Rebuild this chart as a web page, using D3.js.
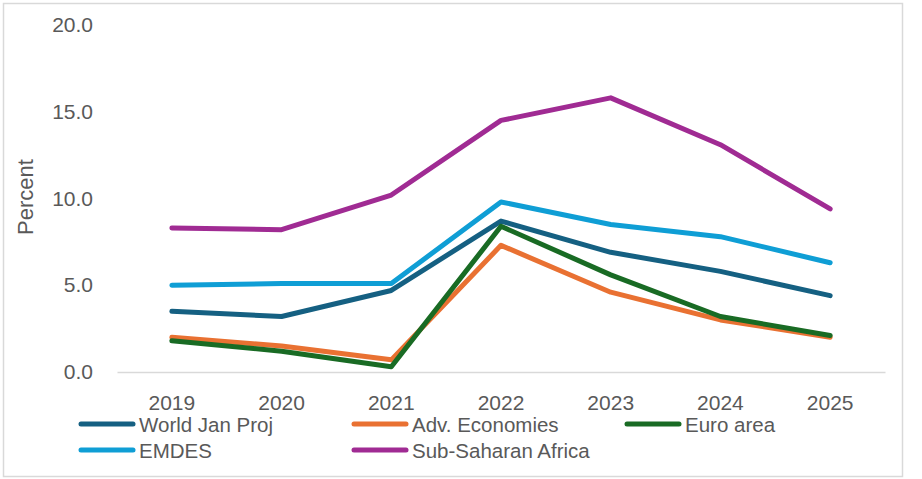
<!DOCTYPE html>
<html>
<head>
<meta charset="utf-8">
<script src="https://cdn.jsdelivr.net/npm/d3@7"></script>
<style>
  html, body { margin: 0; padding: 0; background: #fff; }
  svg { display: block; }
  text { font-family: "Liberation Sans", Arial, sans-serif; fill: #595959; }
</style>
</head>
<body>
<svg id="chart" width="922" height="479"></svg>
<script>
// Years on the horizontal axis
const years = ["2019", "2020", "2021", "2022", "2023", "2024", "2025"];

// Inflation, percent
const worldJanProj   = [3.5, 3.2, 4.7, 8.7, 6.9, 5.8, 4.4];
const advEconomies   = [2.0, 1.5, 0.7, 7.3, 4.6, 3.0, 2.0];
const euroArea       = [1.8, 1.2, 0.3, 8.4, 5.6, 3.2, 2.1];
const emdes          = [5.0, 5.1, 5.1, 9.8, 8.5, 7.8, 6.3];
const subSaharan     = [8.3, 8.2, 10.2, 14.5, 15.8, 13.1, 9.4];

const yTicks = [0, 5, 10, 15, 20];

const seriesNames  = ["World Jan Proj", "Adv. Economies", "Euro area", "EMDES", "Sub-Saharan Africa"];
const seriesValues = [worldJanProj, advEconomies, euroArea, emdes, subSaharan];
const seriesColors = ["#156082", "#E97132", "#196B24", "#0F9ED5", "#A02B93"];

const svg = d3.select("#chart");

// outer frame
svg.append("rect")
  .attr("x", 3.5).attr("y", 3.5)
  .attr("width", 899).attr("height", 473)
  .attr("fill", "#fff")
  .attr("stroke", "#d9d9d9").attr("stroke-width", 1.5);

const plot = { left: 117, right: 885, top: 25, bottom: 372 };

const x = d3.scaleBand().domain(years).range([plot.left, plot.right]);
const y = d3.scaleLinear().domain([0, 20]).range([plot.bottom, plot.top]);

const font = "'Liberation Sans', Arial, sans-serif";

// y tick labels (no axis line)
const yAxis = d3.axisLeft(y).tickValues(yTicks).tickFormat(d3.format(".1f")).tickSize(0).tickPadding(0);
const gy = svg.append("g").attr("transform", `translate(93,0)`).call(yAxis);
gy.select(".domain").remove();
gy.selectAll("text").attr("font-size", 21).attr("fill", "#595959").style("font-family", font);

// x axis baseline and labels
const xAxis = d3.axisBottom(x).tickSize(0).tickPadding(0);
const gx = svg.append("g").attr("transform", `translate(0,${plot.bottom})`).call(xAxis);
gx.select(".domain").attr("stroke", "#d9d9d9").attr("stroke-width", 1.5);
gx.selectAll("text").attr("font-size", 21).attr("fill", "#595959")
  .attr("y", 38).attr("dy", 0)
  .style("font-family", font);

// y axis title
svg.append("text")
  .attr("transform", `translate(33,197) rotate(-90)`)
  .attr("text-anchor", "middle")
  .attr("font-size", 22)
  .text("Percent");

// lines
const line = d3.line()
  .x((d, i) => x(years[i]) + x.bandwidth() / 2)
  .y(d => y(d));

seriesValues.forEach((vals, k) => {
  svg.append("path")
    .datum(vals)
    .attr("d", line)
    .attr("fill", "none")
    .attr("stroke", seriesColors[k])
    .attr("stroke-width", 5)
    .attr("stroke-linejoin", "round")
    .attr("stroke-linecap", "round");
});

// legend
const legendCols = [81, 354, 627];
const legendRows = [424, 450];
seriesNames.forEach((name, k) => {
  const cx = legendCols[k % 3];
  const cy = legendRows[Math.floor(k / 3)];
  const g = svg.append("g");
  g.append("line")
    .attr("x1", cx).attr("x2", cx + 52)
    .attr("y1", cy).attr("y2", cy)
    .attr("stroke", seriesColors[k])
    .attr("stroke-width", 5)
    .attr("stroke-linecap", "round");
  g.append("text")
    .attr("x", cx + 58).attr("y", cy + 7.5)
    .attr("font-size", 20.5)
    .text(name);
});
</script>
</body>
</html>
